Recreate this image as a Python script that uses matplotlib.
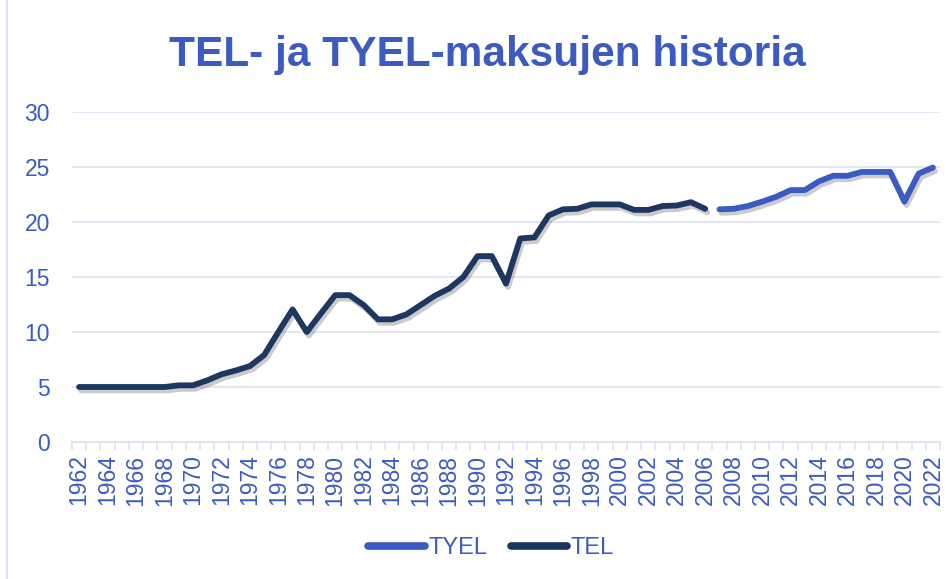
import matplotlib.pyplot as plt
import matplotlib.patheffects as pe
import numpy as np

plt.rcParams['font.family'] = ['Liberation Sans', 'DejaVu Sans']

years = list(range(1962, 2023))

tel_years = list(range(1962, 2007))
tel = [5.0, 5.0, 5.0, 5.0, 5.0, 5.0, 5.0, 5.15, 5.15, 5.6,
       6.15, 6.5, 6.9, 7.9, 10.0, 12.05, 10.0, 11.7, 13.35, 13.35,
       12.45, 11.15, 11.15, 11.6, 12.45, 13.3, 13.95, 15.0, 16.9, 16.9,
       14.4, 18.5, 18.6, 20.6, 21.15, 21.2, 21.6, 21.6, 21.6, 21.1,
       21.1, 21.45, 21.5, 21.8, 21.2]

tyel_years = list(range(2007, 2023))
tyel = [21.15, 21.2, 21.45, 21.85, 22.3, 22.9, 22.9, 23.7, 24.2, 24.2,
        24.55, 24.55, 24.55, 21.85, 24.4, 24.95]

blue = '#3A5BC2'
navy = '#1E3761'
text_c = '#3B5BC0'
grid_c = '#DCE0F2'

fig = plt.figure(figsize=(9.52, 5.79), dpi=100)
ax = fig.add_axes([72 / 952, 1 - 442 / 579, 868 / 952, 330 / 579])

shadow = [pe.SimpleLineShadow(offset=(1.5, -2.5), shadow_color='#555555', alpha=0.3),
          pe.Normal()]

tx = [years.index(y) for y in tyel_years]
lx = [years.index(y) for y in tel_years]
ax.plot(tx, tyel, color=blue, lw=4.2, solid_capstyle='round', solid_joinstyle='round',
        label='TYEL', path_effects=shadow, zorder=3)
ax.plot(lx, tel, color=navy, lw=4.2, solid_capstyle='round', solid_joinstyle='round',
        label='TEL', path_effects=shadow, zorder=3)

ax.set_xlim(-0.5, len(years) - 0.5)
ax.set_ylim(0, 30)
ax.set_yticks(np.arange(0, 31, 5))
ax.yaxis.grid(True, color=grid_c, lw=1.2)
ax.set_axisbelow(True)

idx = np.arange(len(years))
ax.set_xticks(idx[::2])
ax.set_xticklabels([str(y) for y in years[::2]], rotation=90)
ax.set_xticks(np.arange(-0.5, len(years), 1), minor=True)
ax.tick_params(axis='x', which='major', length=0, pad=9, labelsize=16.5, labelcolor=text_c)
ax.tick_params(axis='x', which='minor', length=6, color=grid_c, width=1.2)
ax.tick_params(axis='y', length=0, pad=16, labelsize=16.5, labelcolor=text_c)

for s in ['top', 'right', 'left']:
    ax.spines[s].set_visible(False)
ax.spines['bottom'].set_color(grid_c)
ax.spines['bottom'].set_linewidth(1.2)

fig.text(487 / 952, 1 - 55 / 579, 'TEL- ja TYEL-maksujen historia', ha='center', va='center',
         fontsize=30.5, fontweight='bold', color=text_c)

leg = fig.legend(loc='center', bbox_to_anchor=(491 / 952, 1 - 548 / 579), ncol=2,
                 frameon=False, fontsize=17, handlelength=2.4, handletextpad=0.15,
                 columnspacing=1.0, labelcolor=text_c)
for line in leg.get_lines():
    line.set_linewidth(5.5)
    line.set_path_effects([])

# chart border
fig.add_artist(plt.Line2D([7 / 952, 7 / 952], [0, 1], color=grid_c, lw=1.5,
                          transform=fig.transFigure))

fig.savefig('out.png', dpi=100)
